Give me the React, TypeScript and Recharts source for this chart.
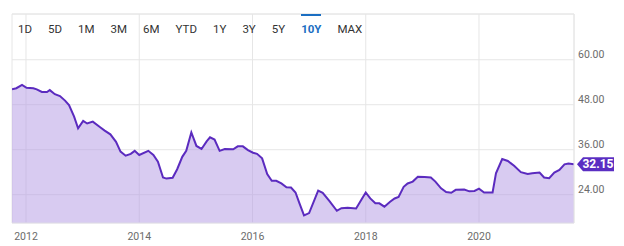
import { AreaChart, Area, XAxis, YAxis, CartesianGrid, ReferenceLine, ReferenceDot } from "recharts";

const years = [
  2011.753, 2011.83, 2011.93, 2012.01, 2012.13, 2012.19, 2012.28, 2012.37, 2012.42, 2012.51,
  2012.6, 2012.69, 2012.76, 2012.85, 2012.92, 2013.01, 2013.08, 2013.18, 2013.31, 2013.39,
  2013.49, 2013.59, 2013.67, 2013.76, 2013.85, 2013.92, 2014.0, 2014.16, 2014.25, 2014.33,
  2014.42, 2014.48, 2014.59, 2014.67, 2014.76, 2014.83, 2014.92, 2015.01, 2015.1, 2015.19,
  2015.25, 2015.33, 2015.42, 2015.51, 2015.66, 2015.74, 2015.83, 2015.92, 2016.01, 2016.08,
  2016.17, 2016.26, 2016.34, 2016.42, 2016.51, 2016.6, 2016.68, 2016.76, 2016.83, 2016.91,
  2017.0, 2017.16, 2017.24, 2017.36, 2017.49, 2017.57, 2017.68, 2017.83, 2017.92, 2018.0,
  2018.08, 2018.17, 2018.24, 2018.33, 2018.43, 2018.51, 2018.58, 2018.67, 2018.74, 2018.83,
  2018.92, 2019.04, 2019.15, 2019.23, 2019.33, 2019.42, 2019.51, 2019.59, 2019.74, 2019.83,
  2019.92, 2020.0, 2020.09, 2020.24, 2020.3, 2020.41, 2020.51, 2020.62, 2020.74, 2020.86,
  2020.94, 2021.07, 2021.15, 2021.24, 2021.33, 2021.42, 2021.51, 2021.58, 2021.678,
];

const prices = [
  52.1, 52.4, 53.3, 52.5, 52.4, 52.1, 51.4, 51.4, 51.9, 50.8,
  50.3, 49.1, 47.9, 44.8, 41.7, 43.7, 43.0, 43.5, 42.0, 41.1,
  40.1, 38.1, 35.5, 34.4, 34.9, 35.7, 34.6, 35.7, 34.6, 32.8,
  28.6, 28.3, 28.5, 30.8, 34.1, 35.7, 40.6, 37.0, 36.2, 38.2,
  39.3, 38.7, 35.7, 36.2, 36.1, 36.9, 36.9, 35.9, 35.2, 34.9,
  33.7, 29.5, 27.7, 27.7, 27.0, 26.0, 25.9, 24.6, 21.7, 18.5,
  19.1, 25.1, 24.5, 22.3, 19.7, 20.4, 20.5, 20.3, 22.6, 24.6,
  23.0, 21.7, 21.7, 20.8, 22.1, 23.0, 23.4, 26.1, 27.0, 27.5,
  28.8, 28.7, 28.6, 27.5, 25.7, 24.7, 24.5, 25.3, 25.4, 24.9,
  25.0, 25.6, 24.6, 24.6, 29.7, 33.5, 33.0, 31.7, 30.0, 29.5,
  29.7, 29.9, 28.6, 28.4, 29.9, 30.6, 32.1, 32.3, 32.15,
];

const yearTicks = [2012, 2014, 2016, 2018, 2020];
const priceTicks = [24, 36, 48, 60];
const ranges = ["1D", "5D", "1M", "3M", "6M", "YTD", "1Y", "3Y", "5Y", "10Y", "MAX"];
const activeRange = "10Y";

const xMin = 2011.753;
const xMax = 2021.678;
const yMin = 16.45;
const yMax = 72.2;

const data = years.map((t, i) => ({ t, v: prices[i] }));
const last = data[data.length - 1];

const FONT = "Roboto, 'Noto Sans', sans-serif";

const PriceTick = ({ x, y, payload }: any) => (
  <text x={x} y={y - 5} dy="0.35em" fill="#6b6b6b" fontSize={10.5} fontFamily={FONT} textAnchor="start">
    {payload.value.toFixed(2)}
  </text>
);

const Badge = ({ cx, cy }: any) => {
  if (cx == null || cy == null) return null;
  const x0 = cx + 3;
  return (
    <g>
      <path
        d={`M${x0},${cy} L${x0 + 6},${cy - 7} L${x0 + 37},${cy - 7} L${x0 + 37},${cy + 7} L${x0 + 6},${cy + 7} Z`}
        fill="#5a2ec2"
      />
      <text x={x0 + 21} y={cy} dy="0.36em" textAnchor="middle" fill="#fff" fontSize={12} fontWeight={700} fontFamily={FONT}>
        {last.v.toFixed(2)}
      </text>
    </g>
  );
};

export default function App() {
  return (
    <div style={{ position: "absolute", left: 0, top: 0, width: 624, height: 246, background: "#fff" }}>
      <AreaChart width={624} height={246} data={data} margin={{ top: 14, right: 0, left: 12, bottom: 0 }}>
        <CartesianGrid stroke="#e6e6e6" strokeWidth={1} />
        <XAxis
          dataKey="t"
          type="number"
          domain={[xMin, xMax]}
          ticks={yearTicks}
          allowDataOverflow
          height={23}
          axisLine={false}
          tickLine={false}
          tickMargin={4}
          tick={{ fill: "#6b6b6b", fontSize: 10.5, fontFamily: FONT }}
        />
        <YAxis
          orientation="right"
          type="number"
          domain={[yMin, yMax]}
          ticks={priceTicks}
          allowDataOverflow
          width={50}
          axisLine={false}
          tickLine={false}
          tickSize={0}
          tickMargin={4}
          tick={<PriceTick />}
        />
        <ReferenceLine y={yMax} stroke="#e6e6e6" ifOverflow="visible" />
        <ReferenceLine x={xMax} stroke="#e6e6e6" ifOverflow="visible" />
        <Area
          type="linear"
          dataKey="v"
          stroke="#5b2bbf"
          strokeWidth={2}
          fill="#b197e4"
          fillOpacity={0.5}
          isAnimationActive={false}
          dot={false}
          activeDot={false}
        />
        <ReferenceLine y={yMin} stroke="#e3e0ea" ifOverflow="visible" />
        <ReferenceDot x={last.t} y={last.v} r={0} shape={<Badge />} ifOverflow="visible" />
      </AreaChart>
      <div
        style={{
          position: "absolute",
          left: 10,
          top: 14,
          height: 30,
          display: "flex",
          alignItems: "center",
          fontFamily: FONT,
          fontSize: 11.5,
        }}
      >
        {ranges.map((r) => (
          <div
            key={r}
            style={{
              position: "relative",
              padding: "0 8px",
              height: 30,
              lineHeight: "30px",
              color: r === activeRange ? "#1b6ec2" : "#333",
              fontWeight: r === activeRange ? 700 : 400,
            }}
          >
            {r === activeRange && (
              <div style={{ position: "absolute", left: 8, right: 8, top: 0, height: 2, background: "#1b6ec2" }} />
            )}
            {r}
          </div>
        ))}
      </div>
    </div>
  );
}
